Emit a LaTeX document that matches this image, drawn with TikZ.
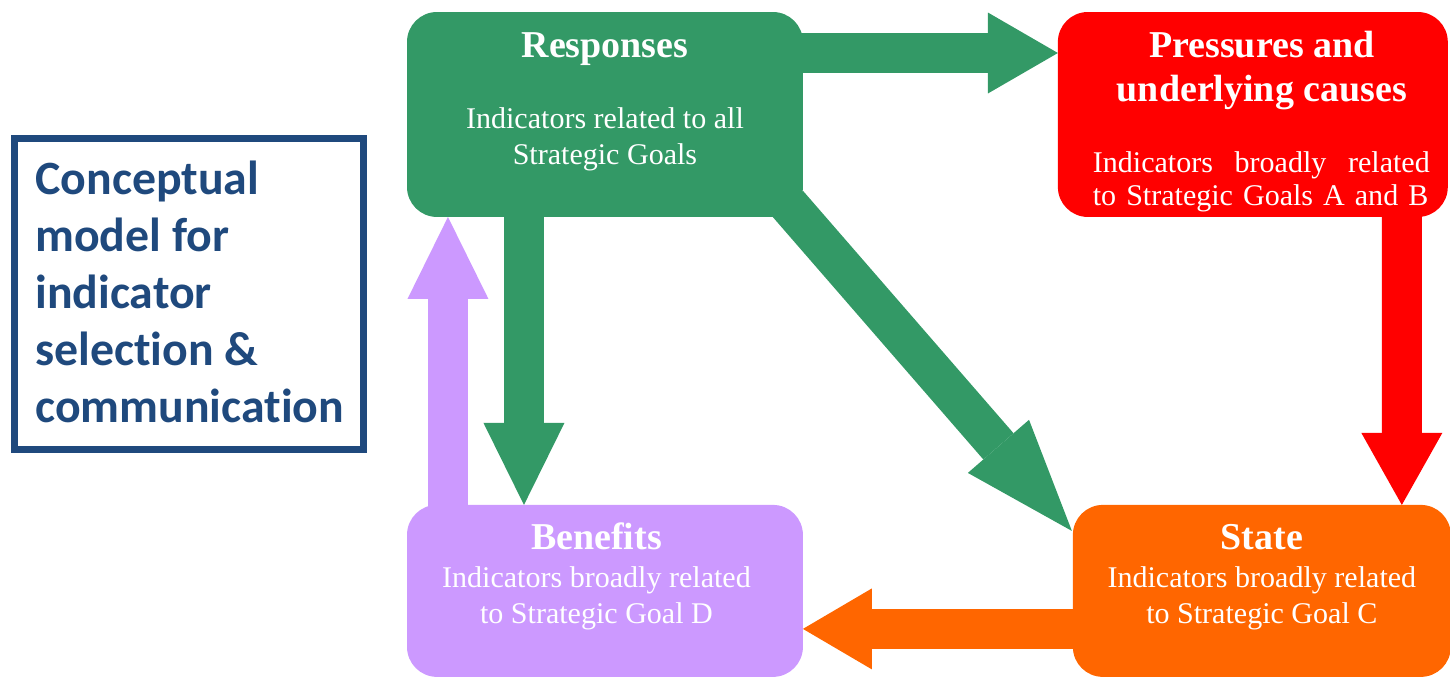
\documentclass[tikz,border=0pt]{standalone}
\usepackage{fontspec}
\setmainfont{Liberation Serif}
\newfontfamily\conceptfont[Ligatures=NoCommon]{Carlito}
\usetikzlibrary{arrows.meta, positioning, calc}

\definecolor{respgreen}{HTML}{339966}
\definecolor{pressred}{HTML}{FF0000}
\definecolor{stateorange}{HTML}{FF6600}
\definecolor{benpurple}{HTML}{CC99FF}
\definecolor{conceptblue}{HTML}{1F497D}

\begin{document}
\begin{tikzpicture}[x=0.02cm, y=-0.02cm]
    \tikzset{
        box/.style = {rectangle, rounded corners=0.6cm, inner sep=0pt, outer sep=0pt},
        heading/.style = {text=white, font=\bfseries\fontsize{21.6pt}{24.5pt}\selectfont, align=center, inner sep=0pt},
        body/.style = {text=white, font=\fontsize{17.1pt}{20.2pt}\selectfont, align=center, inner sep=0pt},
        block/.style = {line width=0.8cm, -{Triangle[length=#1, width=1.62cm, line width=0pt]}},
        block/.default = 1.4cm,
        conceptframe/.style = {rectangle, draw=conceptblue, line width=0.14cm, inner sep=0pt, outer sep=0pt},
        concepttext/.style = {text=conceptblue, font=\conceptfont\bfseries\fontsize{27.2pt}{32.4pt}\selectfont, align=left, inner sep=0pt},
    }
    \useasboundingbox (0,0) rectangle (1450,677);

    \node[conceptframe, minimum width=6.98cm, minimum height=6.22cm](frame) at (189,294){};
    \node[concepttext, anchor=north west](concept) at ([xshift=0.41cm, yshift=-0.44cm]frame.north west){Conceptual\\model for\\indicator\\selection \&\\communication};

    \node[box, fill=respgreen, minimum width=7.92cm, minimum height=4.1cm, anchor=north west](responses) at (407,12){};
    \node[box, fill=pressred, minimum width=7.8cm, minimum height=4.1cm](pressures)[right=5.1cm of responses]{};
    \node[box, fill=benpurple, minimum width=7.92cm, minimum height=3.44cm](benefits)[below=5.76cm of responses]{};
    \node[box, fill=stateorange, minimum width=7.56cm, minimum height=3.44cm](state)[right=5.4cm of benefits]{};

    \draw[block, respgreen] ($(responses.north east)+(-23,41)$) -- ($(pressures.north west)+(0,41)$);
    \draw[block=1.44cm, pressred] ($(pressures.south)+(149,-5)$) -- ($(state.north)+(140,0)$);
    \draw[block=1.64cm, respgreen] ($(responses.south)+(-81,-5)$) -- ($(benefits.north)+(-81,0)$);
    \draw[block=1.64cm, benpurple] ($(benefits.north)+(-157,5)$) -- ($(responses.south)+(-157,0)$);
    \draw[block=1.38cm, stateorange] ($(state.west)+(10,38)$) -- ($(benefits.east)+(0,38)$);
    \draw[block=2.24cm, respgreen] ($(responses.south east)+(-15,-13)$) -- ($(state.north west)+(-1,26)$);

    \node[heading, anchor=base](respTitle) at ([yshift=-0.92cm]responses.north){Responses};
    \node[body, anchor=north](respText) at ([yshift=-1.91cm]responses.north){Indicators related to all\\Strategic Goals};

    \node[heading, anchor=north](pressTitle) at ([xshift=0.18cm, yshift=-0.386cm]pressures.north){Pressures and\\underlying causes};
    \node[body, anchor=north, align=left, text width=6.74cm, font=\fontsize{17.1pt}{18.8pt}\selectfont](pressText) at ([xshift=0.17cm, yshift=-2.79cm]pressures.north){Indicators\hfill broadly\hfill related\\to Strategic Goals A and B};

    \node[heading, anchor=base](stateTitle) at ([yshift=-0.9cm]state.north){State};
    \node[body, anchor=north](stateText) at ([yshift=-1.23cm]state.north){Indicators broadly related\\to Strategic Goal C};

    \node[heading, anchor=base](benTitle) at ([xshift=-0.17cm, yshift=-0.9cm]benefits.north){Benefits};
    \node[body, anchor=north](benText) at ([xshift=-0.17cm, yshift=-1.23cm]benefits.north){Indicators broadly related\\to Strategic Goal D};

\end{tikzpicture}
\end{document}
